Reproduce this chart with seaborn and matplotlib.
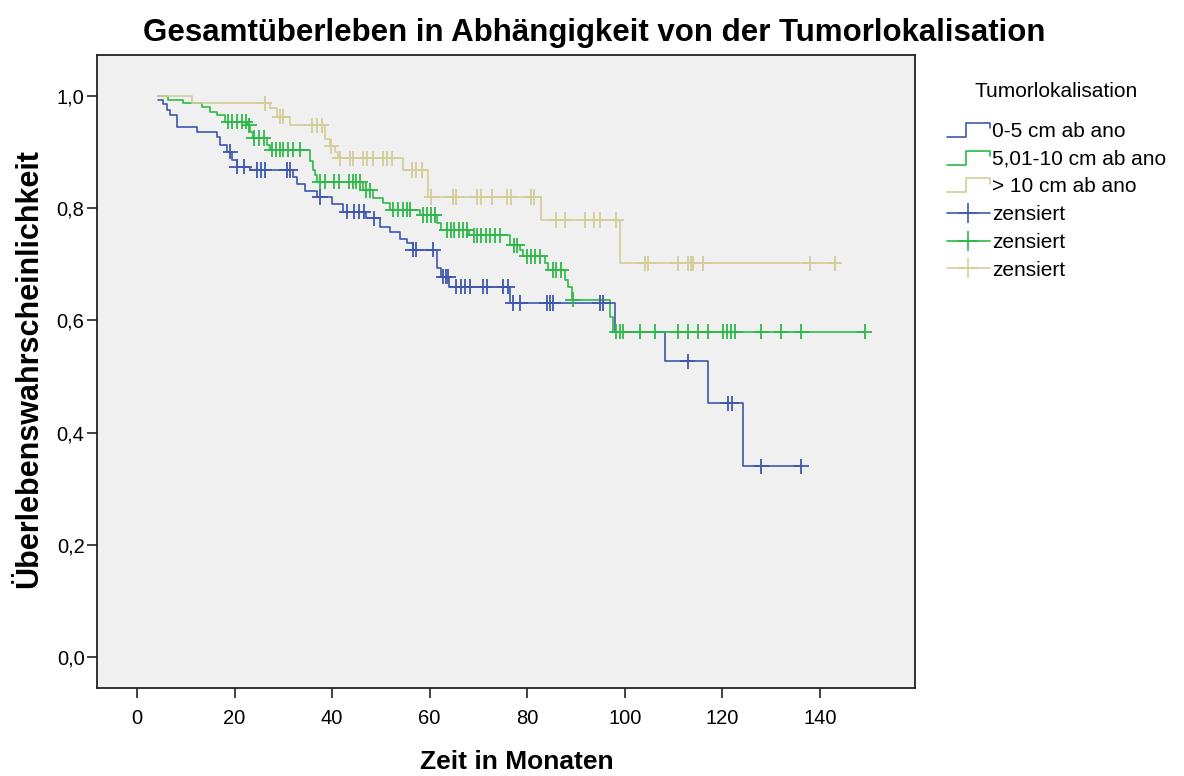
import numpy as np
import pandas as pd
import matplotlib
matplotlib.use('Agg')
import matplotlib.pyplot as plt
import seaborn as sns
from matplotlib.legend_handler import HandlerBase
from matplotlib.lines import Line2D
from matplotlib.ticker import FuncFormatter

groups = ['0-5 cm ab ano', '5,01-10 cm ab ano', '> 10 cm ab ano']
colors = ['#3E58AC', '#2EB848', '#D3CE97']

# 0-5 cm ab ano: Zeitpunkte der Stufen, Überleben danach, zensierte Fälle
t_blue = [4.4, 5.4, 6.1, 6.8, 8.1, 12.2, 16.3, 17.0, 18.4, 19.4, 20.4, 23.2, 32.0, 32.7,
          34.5, 37.0, 39.9, 42.3, 47.0, 49.8, 51.9, 53.9, 55.3, 56.5, 61.5, 62.3, 64.0,
          76.5, 98.0, 108.2, 117.0, 124.2]
s_blue = [0.992, 0.986, 0.975, 0.966, 0.945, 0.936, 0.927, 0.913, 0.901, 0.886, 0.874, 0.868,
          0.856, 0.843, 0.830, 0.820, 0.808, 0.794, 0.782, 0.767, 0.758, 0.746, 0.738, 0.726,
          0.693, 0.678, 0.660, 0.631, 0.579, 0.527, 0.452, 0.340]
c_blue = [19.1, 20.4, 22.0, 24.6, 25.5, 26.2, 30.7, 31.4, 37.5, 43.0, 44.5, 45.5, 46.5, 48.5,
          56.6, 57.3, 60.7, 62.8, 63.3, 63.8, 65.5, 66.5, 67.3, 68.3, 71.0, 71.7, 75.0, 76.0,
          77.0, 78.5, 84.0, 84.7, 85.3, 94.9, 95.6, 112.9, 121.1, 121.9, 128.0, 136.2]

# 5,01-10 cm ab ano
t_green = [4.4, 6.4, 9.5, 13.3, 15.0, 16.3, 18.0, 22.5, 23.2, 23.8, 26.6, 27.3, 35.5, 36.1,
           36.5, 37.0, 46.4, 48.4, 50.5, 51.9, 58.0, 61.6, 62.3, 68.0, 76.5, 78.5, 79.1, 83.6,
           84.3, 87.7, 88.4, 89.1, 97.0, 97.6]
s_green = [1.0, 0.993, 0.987, 0.980, 0.972, 0.966, 0.954, 0.948, 0.936, 0.925, 0.913, 0.904,
           0.885, 0.868, 0.860, 0.847, 0.832, 0.818, 0.809, 0.797, 0.788, 0.773, 0.761, 0.752,
           0.734, 0.726, 0.714, 0.702, 0.690, 0.672, 0.660, 0.637, 0.607, 0.580]
c_green = [18.7, 19.5, 20.5, 21.5, 22.3, 23.0, 24.0, 25.0, 26.0, 27.6, 28.5, 29.3, 30.0, 31.0,
           32.0, 33.5, 37.5, 38.5, 40.3, 41.5, 43.5, 44.3, 45.0, 45.7, 47.0, 47.8, 52.5, 53.5,
           54.5, 55.3, 56.0, 58.7, 59.5, 60.3, 61.0, 63.5, 64.3, 65.0, 66.0, 66.9, 67.6, 69.0,
           69.7, 70.5, 71.5, 72.3, 73.3, 74.4, 77.2, 77.9, 79.9, 80.8, 81.5, 82.6, 85.3, 86.0,
           87.0, 89.4, 98.3, 99.0, 99.6, 103.1, 106.2, 110.9, 112.9, 115.0, 117.0, 120.1,
           121.0, 121.8, 122.6, 128.0, 132.1, 136.2, 149.2]

# > 10 cm ab ano
t_olive = [4.4, 11.2, 27.3, 28.6, 31.4, 38.5, 39.6, 40.6, 41.3, 54.6, 59.7, 82.9, 99.0]
s_olive = [1.0, 0.987, 0.978, 0.963, 0.948, 0.924, 0.910, 0.900, 0.889, 0.868, 0.820, 0.779, 0.702]
c_olive = [26.2, 29.3, 30.0, 35.8, 37.0, 37.9, 39.8, 41.6, 43.7, 44.3, 46.4, 47.1, 48.4, 50.5,
           51.2, 52.2, 56.3, 57.3, 58.4, 60.3, 64.8, 65.5, 69.8, 70.5, 72.8, 75.8, 76.6, 80.7,
           81.4, 86.0, 87.7, 91.8, 93.7, 94.9, 98.2, 104.1, 104.8, 110.9, 112.9, 113.5, 114.0,
           116.1, 137.9, 143.0]

curves = [(t_blue, s_blue, c_blue), (t_green, s_green, c_green), (t_olive, s_olive, c_olive)]

line_rows, cens_rows = [], []
for g, (t, s, c) in zip(groups, curves):
    t = np.array(t)
    s = np.array(s)
    for ti, si in zip(np.append(t, max(c)), np.append(s, s[-1])):
        line_rows.append((g, ti, si))
    idx = np.searchsorted(t, c, side='right') - 1
    for ci, si in zip(c, s[idx]):
        cens_rows.append((g, ci, si))
df_line = pd.DataFrame(line_rows, columns=['Gruppe', 'Zeit', 'S'])
df_cens = pd.DataFrame(cens_rows, columns=['Gruppe', 'Zeit', 'S'])

sns.set_style('white')
plt.rcParams['font.family'] = ['Liberation Sans', 'DejaVu Sans']
plt.rcParams['text.color'] = 'black'

fig = plt.figure(figsize=(11.84, 7.76), dpi=100)
ax = fig.add_axes([97 / 1184, 1 - 688 / 776, 818 / 1184, 633 / 776])
ax.set_facecolor('#F0F0F0')
pal = dict(zip(groups, colors))

sns.lineplot(data=df_line, x='Zeit', y='S', hue='Gruppe', palette=pal, estimator=None,
             sort=False, drawstyle='steps-post', linewidth=1.2, legend=False, ax=ax)
sns.scatterplot(data=df_cens, x='Zeit', y='S', hue='Gruppe', palette=pal, marker='+',
                s=120, linewidth=1.3, legend=False, ax=ax, zorder=3)

ax.set_xlim(-8.2, 159.5)
ax.set_ylim(-0.055, 1.073)
ax.set_xticks(range(0, 141, 20))
ax.set_yticks([0, 0.2, 0.4, 0.6, 0.8, 1.0])
ax.yaxis.set_major_formatter(FuncFormatter(lambda v, p: f'{v:.1f}'.replace('.', ',')))
ax.tick_params(axis='both', which='major', direction='out', length=7, width=1.2,
               labelsize=14.5, colors='#222222', labelcolor='black', bottom=True, left=True)
ax.tick_params(axis='y', pad=2)
ax.tick_params(axis='x', pad=8)
for sp in ax.spines.values():
    sp.set_color('#222222')
    sp.set_linewidth(1.3)

ax.set_xlabel('Zeit in Monaten', fontsize=19, fontweight='bold', va='center', color='black')
ax.set_ylabel('Überlebenswahrscheinlichkeit', fontsize=22, fontweight='bold',
              va='center', color='black')
ax.xaxis.set_label_coords(0.513, -0.117)
ax.yaxis.set_label_coords(-0.083, 0.504)

fig.text(0.5017, 0.958, 'Gesamtüberleben in Abhängigkeit von der Tumorlokalisation',
         ha='center', va='center', fontsize=22.5, fontweight='bold', color='black')


class HandlerStep(HandlerBase):
    def create_artists(self, legend, orig_handle, xdescent, ydescent, width, height,
                       fontsize, trans):
        x0, y0 = -xdescent, -ydescent
        xs = [x0, x0 + 0.45 * width, x0 + 0.45 * width, x0 + width, x0 + width]
        ys = [y0 + 0.0 * height, y0 + 0.0 * height, y0 + 0.95 * height,
              y0 + 0.95 * height, y0 + 0.6 * height]
        return [Line2D(xs, ys, color=orig_handle.get_color(), lw=1.2, transform=trans)]


step_handles = [Line2D([0], [0], color=c, lw=1.2) for c in colors]
cens_handles = [Line2D([0], [0], color=c, lw=1.2, marker='+', markersize=15, mew=1.2)
                for c in colors]
handler_map = {h: HandlerStep() for h in step_handles}
leg = ax.legend(step_handles + cens_handles, groups + ['zensiert'] * 3,
                loc='upper left', bbox_to_anchor=(947 / 1184, 1 - 82 / 776),
                bbox_transform=fig.transFigure, frameon=False, fontsize=15,
                title='Tumorlokalisation', title_fontsize=15, handlelength=2.05,
                handletextpad=0.1, labelspacing=0.42, borderaxespad=0, borderpad=0,
                handler_map=handler_map)
leg._legend_box.sep = 15

fig.savefig('out.png', dpi=100)
